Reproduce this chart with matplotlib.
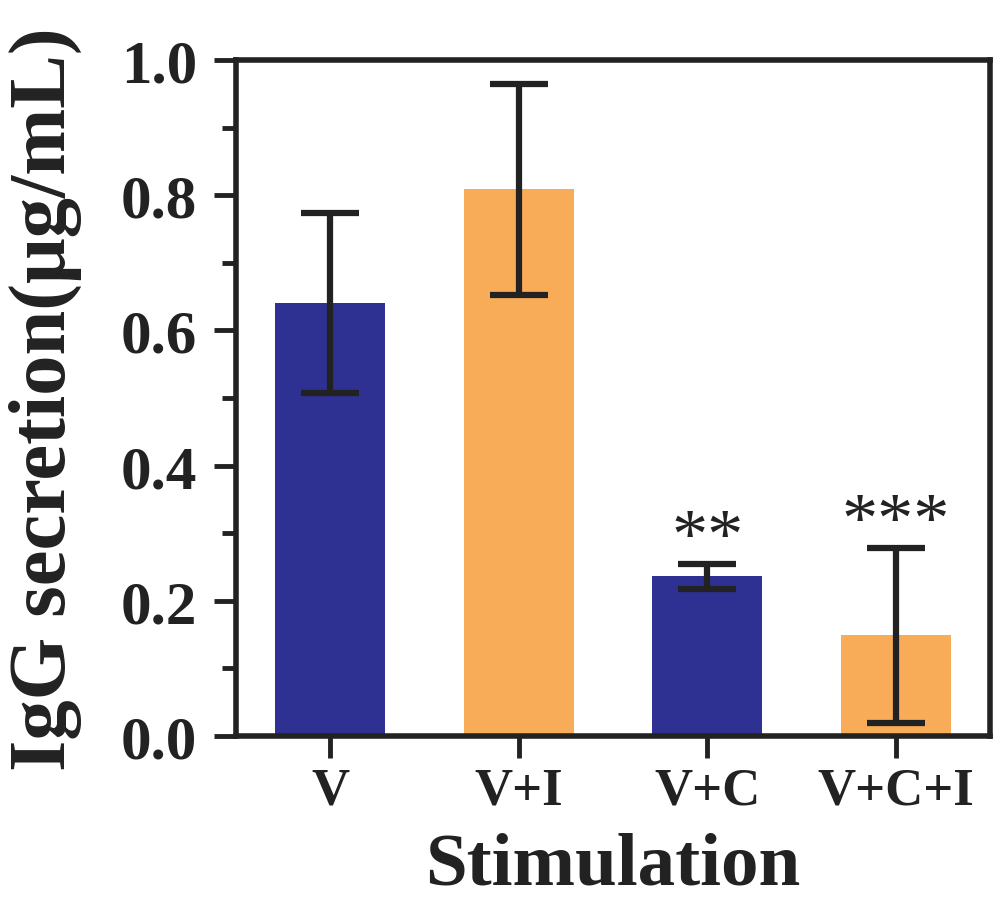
import numpy as np
import matplotlib
matplotlib.use("Agg")
import matplotlib.pyplot as plt
from matplotlib.ticker import MultipleLocator, FormatStrFormatter

plt.rcParams['font.family'] = ['Liberation Serif', 'DejaVu Serif']
plt.rcParams['font.weight'] = 'bold'
plt.rcParams['axes.labelweight'] = 'bold'

# data
groups = ['V', 'V+I', 'V+C', 'V+C+I']
means = [0.640, 0.809, 0.236, 0.149]
errs = [0.133, 0.156, 0.019, 0.129]
stars = ['', '', '**', '***']
bar_colors = ['#2E3092', '#F9AC57', '#2E3092', '#F9AC57']

ink = '#222222'

fig = plt.figure(figsize=(10, 9.04), dpi=100)
ax = fig.add_axes([0.236, 0.1847, 0.754, 0.7478])

x = np.arange(len(groups))
ax.bar(x, means, width=0.585, color=bar_colors, zorder=1)
ax.errorbar(x, means, yerr=errs, fmt='none', ecolor=ink, elinewidth=4.5,
            capsize=21, capthick=4.5, zorder=3)

# significance marks
for xi, m, e, s in zip(x, means, errs, stars):
    if s:
        ax.text(xi, m + e - 0.012, s, ha='center', va='bottom',
                fontsize=52, fontweight='normal', color=ink)

ax.set_xlim(-0.5, 3.5)
ax.set_ylim(0, 1.0)
ax.set_xticks(x)
ax.set_xticklabels(groups, fontsize=38)
ax.yaxis.set_major_locator(MultipleLocator(0.2))
ax.yaxis.set_minor_locator(MultipleLocator(0.1))
ax.yaxis.set_major_formatter(FormatStrFormatter('%.1f'))
for lab in ax.get_yticklabels():
    lab.set_fontsize(44)

for sp in ax.spines.values():
    sp.set_linewidth(4)
    sp.set_color(ink)

ax.tick_params(axis='both', which='major', direction='out', length=16,
               width=3.5, color=ink, labelcolor=ink)
ax.tick_params(axis='y', which='major', pad=12)
ax.tick_params(axis='x', which='major', pad=6)
ax.tick_params(axis='y', which='minor', direction='out', length=10,
               width=3.5, color=ink)

ax.set_ylabel('IgG secretion(μg/mL)', fontsize=58, color=ink)
ax.yaxis.set_label_coords(-0.204, 0.5)
ax.set_xlabel('Stimulation', fontsize=54, color=ink)
ax.xaxis.label.set_va('bottom')
ax.xaxis.set_label_coords(0.5, -0.2425)

fig.savefig('out.png', dpi=100)
